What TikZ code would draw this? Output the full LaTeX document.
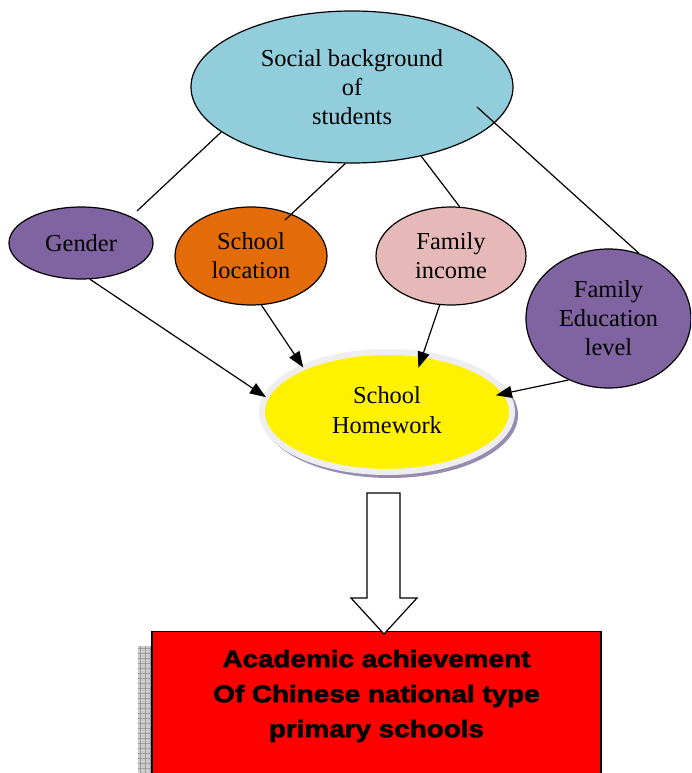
\documentclass[tikz,border=0pt]{standalone}
\usepackage{fontspec}
\setmainfont{Liberation Serif}
\newfontfamily\boxfont{Liberation Sans}[FakeStretch=1.16, BoldFeatures={FakeBold=2.2}]
\usetikzlibrary{arrows.meta,shapes.geometric,patterns.meta}
\definecolor{socialblue}{RGB}{146,205,220}
\definecolor{purp}{RGB}{128,100,162}
\definecolor{orng}{RGB}{227,108,9}
\definecolor{pinkc}{RGB}{230,185,184}
\definecolor{ringgray}{RGB}{238,238,240}
\definecolor{shadowpurp}{RGB}{150,140,175}
\definecolor{shadowgray}{RGB}{205,205,205}
\tikzset{
  bubble/.style={ellipse, draw=black, line width=1.2pt, inner sep=0pt, align=center,
    font=\fontsize{24.4}{29}\selectfont},
  link/.style={line width=1.2pt},
  arr/.style={line width=1.2pt, -{Triangle[length=16pt,width=12pt]}},
  gridfill/.style={pattern={Lines[angle=#1,distance=5pt,line width=0.4pt]}, pattern color=gray!80},
}
\begin{document}
\begin{tikzpicture}[x=1pt,y=-1pt]
\useasboundingbox (0,0) rectangle (691,773);
\clip (0,0) rectangle (691,773);

% top ellipse
\node[bubble, fill=socialblue, minimum width=322pt, minimum height=152pt] (social) at (352,87)
  {Social background\\of\\students};

% factor ellipses
\node[bubble, fill=purp, minimum width=144pt, minimum height=72pt] (gender) at (81,243) {Gender};
\node[bubble, fill=orng, minimum width=152pt, minimum height=98pt] (schoolloc) at (251,256) {School\\location};
\node[bubble, fill=pinkc, minimum width=150pt, minimum height=98pt] (famincome) at (451,256) {Family\\income};
\node[bubble, fill=purp, minimum width=165pt, minimum height=139pt] (famedu) at (608.5,318.5) {Family\\Education\\level};

% homework ellipse with shadow and ring
\fill[shadowpurp] (390,415) ellipse [x radius=128, y radius=63];
\node[ellipse, fill=yellow, draw=ringgray, line width=6pt, outer sep=0pt, inner sep=0pt,
  minimum width=250pt, minimum height=120pt,
  font=\fontsize{24.4}{30}\selectfont] (homework) at (387,412)
  {\raisebox{6pt}{\begin{tabular}{@{}c@{}}School\\Homework\end{tabular}}};

% connectors from social background
\coordinate (gtop) at (137,211);
\coordinate (sltop) at (285,220);
\coordinate (edustart) at (477,107);
\draw[link] (social.199) -- (gtop);
\draw[link] (social.265) -- (sltop);
\draw[link] (social.315) -- (famincome.80);
\draw[link] (edustart) -- (famedu.65);

% arrows into homework
\draw[arr] (gender.284) -- (homework.173);
\draw[arr] (schoolloc.282) -- (homework.152);
\draw[arr, shorten >=-14pt] (famincome.257) -- (homework.58);
\draw[arr, shorten >=-10pt] (famedu.237) -- (homework.9);

% outcome box with shadow
\fill[shadowgray] (138,646) rectangle (590,800);
\path[gridfill=0] (138,646) rectangle (590,800);
\path[gridfill=90] (138,646) rectangle (590,800);
\node[rectangle, fill=red, draw=black, line width=1.2pt, minimum width=449pt, minimum height=170pt,
  anchor=north, inner sep=0pt] (outcome) at (376.5,631) {};
\node[align=center, font=\boxfont\bfseries\fontsize{24}{35}\selectfont] (outcometext) at (376.5,696)
  {Academic achievement\\Of Chinese national type\\primary schools};

% block arrow
\draw[line width=1.2pt, fill=white] (367,493) -- (400,493) -- (400,598) -- (417,598)
  -- (384,634) -- (351,598) -- (367,598) -- cycle;
\end{tikzpicture}
\end{document}
